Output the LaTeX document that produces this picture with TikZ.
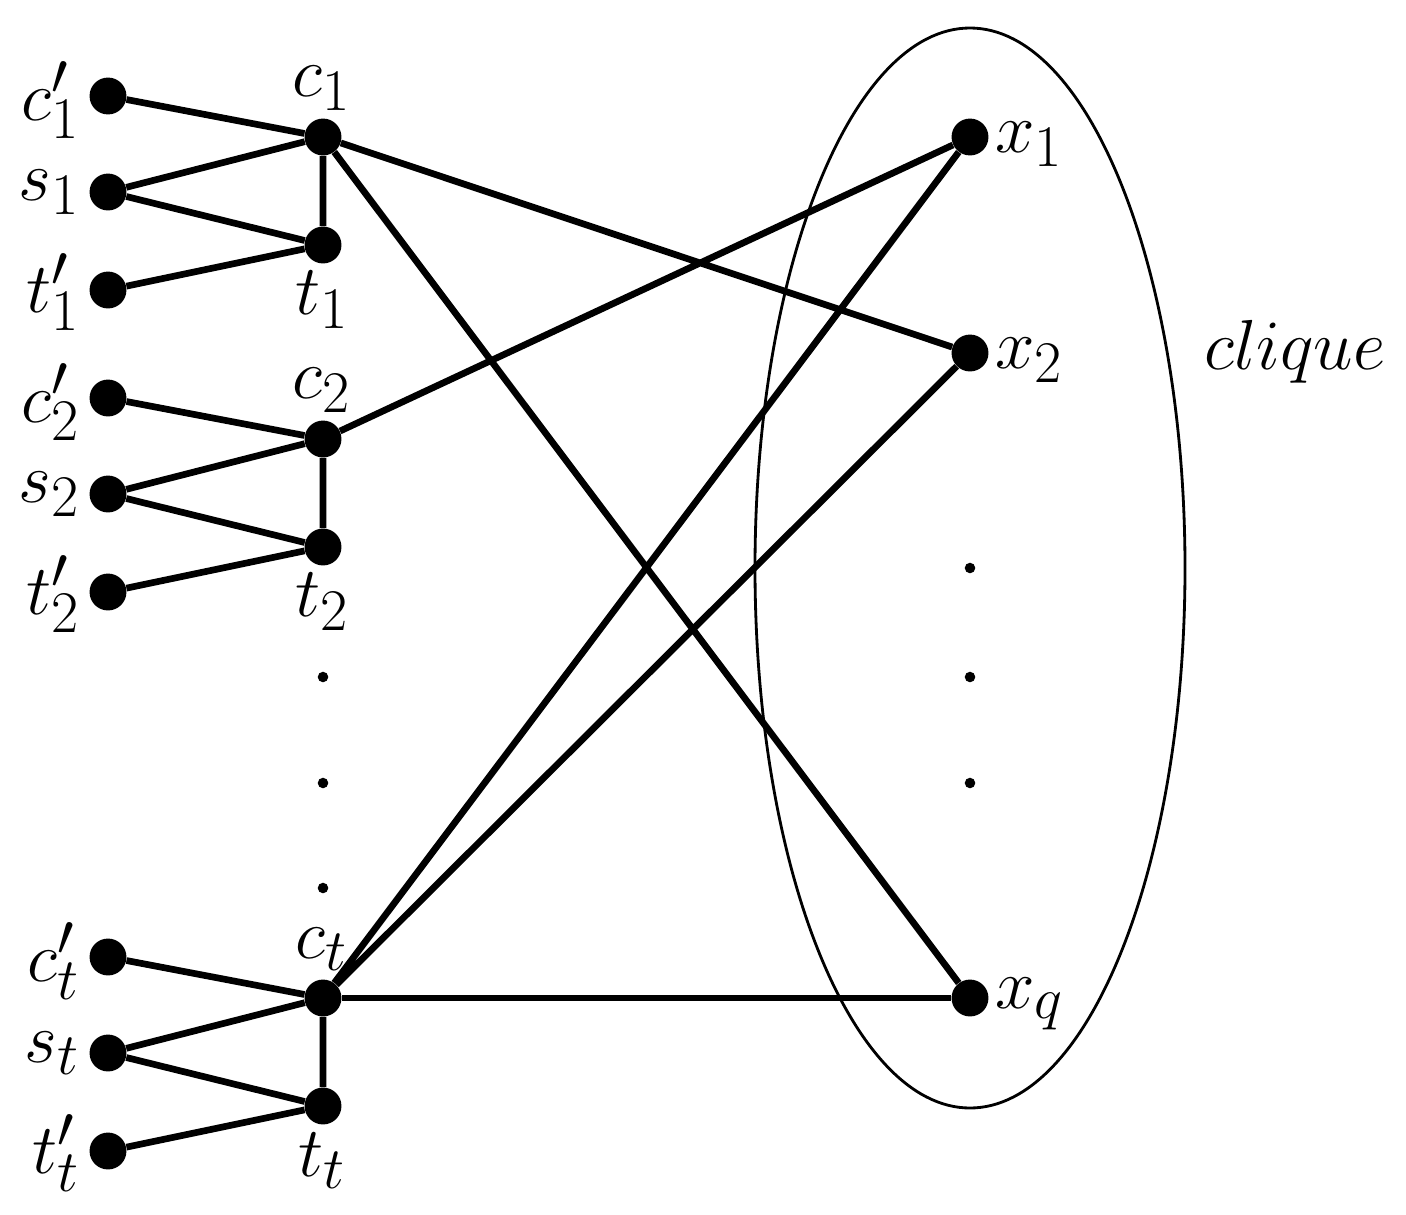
\documentclass[tikz,border=0pt]{standalone}
\usepackage{graphicx}
\newcommand{\mylab}[1]{\scalebox{1.62}{\Huge$#1$}}
\begin{document}
\begin{tikzpicture}[x=0.02cm,y=-0.02cm,
  v/.style={circle,fill=black,inner sep=0pt,minimum size=21pt},
  sd/.style={circle,fill=black,inner sep=0pt,minimum size=6pt},
  e/.style={line width=3.8pt},
  lab/.style={inner sep=0pt}]
\useasboundingbox (0,0) rectangle (1406,1214);
\draw[line width=1.6pt] (970,568) ellipse [x radius=215,y radius=540];
\foreach \n/\y/\i in {1/0/1,2/302/2,3/861/t}{
  \node[v] (cp\n) at (108,96+\y) {};
  \node[v] (s\n) at (108,192+\y) {};
  \node[v] (tp\n) at (108,290+\y) {};
  \node[v] (c\n) at (323,137+\y) {};
  \node[v] (t\n) at (323,245+\y) {};
  \node[lab,anchor=east] at (80,100+\y) {\mylab{c'_{\i}}};
  \node[lab,anchor=east] at (80,192+\y) {\mylab{s_{\i}}};
  \node[lab,anchor=east] at (80,292+\y) {\mylab{t'_{\i}}};
  \node[lab] at (322,88+\y) {\mylab{c_{\i}}};
  \node[lab] at (322,300+\y) {\mylab{t_{\i}}};
  \draw[e] (cp\n)--(c\n) (s\n)--(c\n) (s\n)--(t\n) (tp\n)--(t\n) (c\n)--(t\n);
}
\node[v] (x1) at (970,137) {};
\node[v] (x2) at (970,353) {};
\node[v] (xq) at (970,998) {};
\node[lab,anchor=west] at (995,144) {\mylab{x_1}};
\node[lab,anchor=west] at (995,360) {\mylab{x_2}};
\node[lab,anchor=west] at (995,1004) {\mylab{x_q}};
\node[lab] at (1295,352) {\mylab{clique}};
\foreach \y [count=\k] in {677,783,888} \node[sd] (dl\k) at (323,\y) {};
\foreach \y [count=\k] in {568,677,783} \node[sd] (dr\k) at (970,\y) {};
\draw[e] (c1)--(x2) (c1)--(xq) (c2)--(x1) (c3)--(x1) (c3)--(x2);
\draw[line width=3pt] (c3)--(xq);
\end{tikzpicture}
\end{document}
